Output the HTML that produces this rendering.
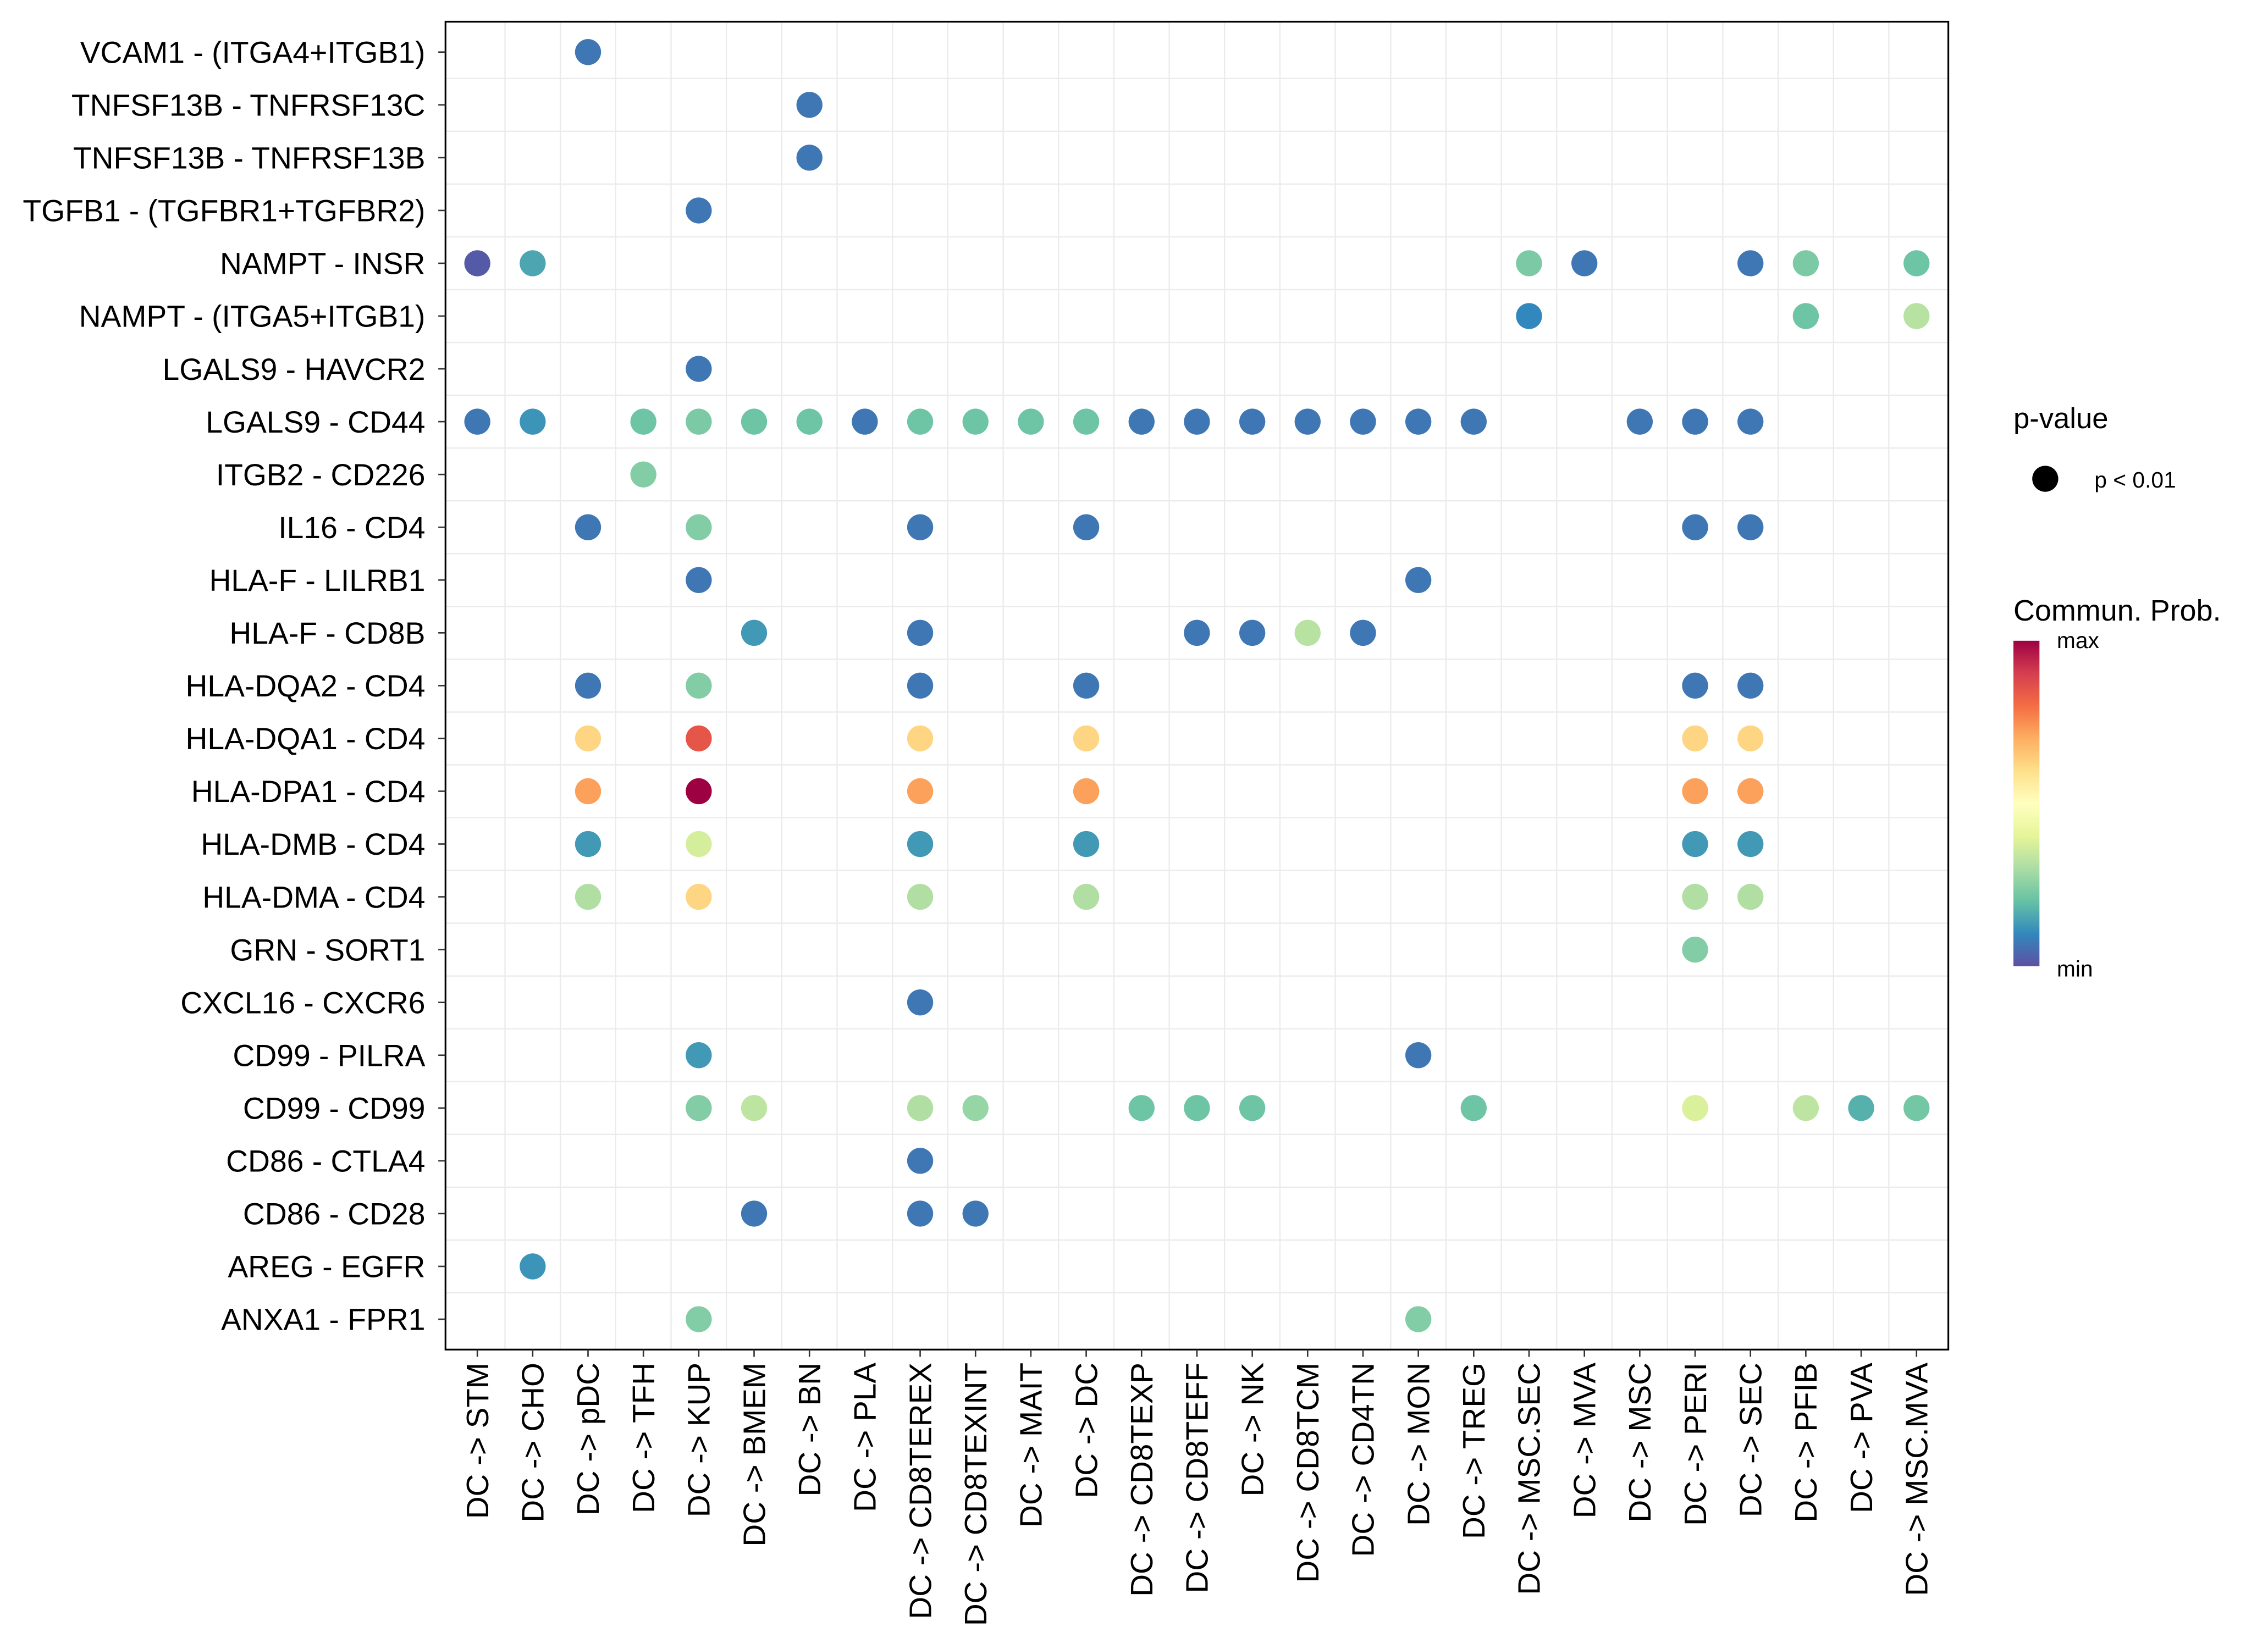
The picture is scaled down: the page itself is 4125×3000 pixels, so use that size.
<!DOCTYPE html>
<html><head><meta charset="utf-8"><style>
html,body{margin:0;padding:0;background:#fff;width:4125px;height:3000px;overflow:hidden}
svg{display:block}
text{font-family:"Liberation Sans",sans-serif;fill:#000}
</style></head><body>
<svg id="chart" width="4125" height="3000" viewBox="0 0 1568 1140" preserveAspectRatio="none" xmlns="http://www.w3.org/2000/svg">
<defs><linearGradient id="spec" x1="0" y1="1" x2="0" y2="0">
<stop offset="0" stop-color="#5E4FA2"/><stop offset="0.1" stop-color="#3288BD"/><stop offset="0.2" stop-color="#66C2A5"/><stop offset="0.3" stop-color="#ABDDA4"/><stop offset="0.4" stop-color="#E6F598"/><stop offset="0.5" stop-color="#FFFFBF"/><stop offset="0.6" stop-color="#FEE08B"/><stop offset="0.7" stop-color="#FDAE61"/><stop offset="0.8" stop-color="#F46D43"/><stop offset="0.9" stop-color="#D53E4F"/><stop offset="1" stop-color="#9E0142"/></linearGradient></defs>
<g id="grid"></g>
<g id="dots"></g>
<rect x="308" y="15" width="1039" height="918" fill="none" stroke="#000" stroke-width="1.2"/>
<g id="yaxis"></g>
<g id="xaxis"></g>
<g>
<text x="1392" y="296" font-size="20">p-value</text>
<circle cx="1414" cy="331" r="9" fill="#000"/>
<text x="1448" y="337" font-size="15.5">p &lt; 0.01</text>
</g>
<g>
<text x="1392" y="429" font-size="20.5">Commun. Prob.</text>
<rect x="1392" y="443" width="18" height="225" fill="url(#spec)"/>
<text x="1422" y="448" font-size="15.5">max</text>
<text x="1422" y="675" font-size="15.5">min</text>
</g>
</svg>
<script>
const cols = ["DC -> STM","DC -> CHO","DC -> pDC","DC -> TFH","DC -> KUP","DC -> BMEM","DC -> BN","DC -> PLA","DC -> CD8TEREX","DC -> CD8TEXINT","DC -> MAIT","DC -> DC","DC -> CD8TEXP","DC -> CD8TEFF","DC -> NK","DC -> CD8TCM","DC -> CD4TN","DC -> MON","DC -> TREG","DC -> MSC.SEC","DC -> MVA","DC -> MSC","DC -> PERI","DC -> SEC","DC -> PFIB","DC -> PVA","DC -> MSC.MVA"];
const rows = ["VCAM1 - (ITGA4+ITGB1)","TNFSF13B - TNFRSF13C","TNFSF13B - TNFRSF13B","TGFB1 - (TGFBR1+TGFBR2)","NAMPT - INSR","NAMPT - (ITGA5+ITGB1)","LGALS9 - HAVCR2","LGALS9 - CD44","ITGB2 - CD226","IL16 - CD4","HLA-F - LILRB1","HLA-F - CD8B","HLA-DQA2 - CD4","HLA-DQA1 - CD4","HLA-DPA1 - CD4","HLA-DMB - CD4","HLA-DMA - CD4","GRN - SORT1","CXCL16 - CXCR6","CD99 - PILRA","CD99 - CD99","CD86 - CTLA4","CD86 - CD28","AREG - EGFR","ANXA1 - FPR1"];
// per row: column indices with significant interactions
const rowCols = [
[2],[6],[6],[4],
[0,1,19,20,23,24,26],
[19,24,26],
[4],
[0,1,3,4,5,6,7,8,9,10,11,12,13,14,15,16,17,18,21,22,23],
[3],
[2,4,8,11,22,23],
[4,17],
[5,8,13,14,15,16],
[2,4,8,11,22,23],
[2,4,8,11,22,23],
[2,4,8,11,22,23],
[2,4,8,11,22,23],
[2,4,8,11,22,23],
[22],
[8],
[4,17],
[4,5,8,9,12,13,14,18,22,24,25,26],
[8],
[5,8,9],
[1],
[4,17]];
// per row: communication probability (scaled 0..1) for each column above
const rowProbs = [
[0.07],[0.07],[0.07],[0.07],
[0.02,0.15,0.23,0.07,0.07,0.23,0.21],
[0.1,0.21,0.32],
[0.07],
[0.07,0.12,0.21,0.23,0.21,0.21,0.07,0.21,0.21,0.21,0.21,0.07,0.07,0.07,0.07,0.07,0.07,0.07,0.07,0.07,0.07],
[0.24],
[0.07,0.24,0.07,0.07,0.07,0.07],
[0.07,0.07],
[0.13,0.07,0.07,0.07,0.32,0.07],
[0.07,0.24,0.07,0.07,0.07,0.07],
[0.62,0.85,0.62,0.62,0.62,0.62],
[0.72,1.0,0.72,0.72,0.72,0.72],
[0.13,0.37,0.13,0.13,0.13,0.13],
[0.31,0.62,0.31,0.31,0.31,0.31],
[0.24],
[0.07],
[0.13,0.07],
[0.24,0.33,0.31,0.27,0.21,0.21,0.21,0.21,0.38,0.33,0.17,0.22],
[0.07],
[0.07,0.07,0.07],
[0.12],
[0.24,0.24]];

const NS="http://www.w3.org/2000/svg";
const X0=308,X1=1347,Y0=15,Y1=933;
const xScale=i=>330+i*(1325-330)/(cols.length-1);
const yScale=i=>36+i*(912-36)/(rows.length-1);
const stops=["#5E4FA2","#3288BD","#66C2A5","#ABDDA4","#E6F598","#FFFFBF","#FEE08B","#FDAE61","#F46D43","#D53E4F","#9E0142"];
function hex(h){return [1,3,5].map(k=>parseInt(h.substr(k,2),16));}
function color(t){t=Math.max(0,Math.min(1,t));const p=t*10,i=Math.min(9,Math.floor(p)),f=p-i;const a=hex(stops[i]),b=hex(stops[i+1]);return "rgb("+a.map((v,k)=>Math.round(v+(b[k]-v)*f)).join(",")+")";}
function mk(tag,attrs,parent){const e=document.createElementNS(NS,tag);for(const k in attrs)e.setAttribute(k,attrs[k]);parent.appendChild(e);return e;}
const grid=document.getElementById('grid'),dots=document.getElementById('dots'),ya=document.getElementById('yaxis'),xa=document.getElementById('xaxis');
for(let i=0;i<cols.length;i++){
  if(i<cols.length-1){
    const m=mk('line',{x1:(xScale(i)+xScale(i+1))/2,x2:(xScale(i)+xScale(i+1))/2,y1:Y0,y2:Y1,stroke:'#ebebeb','stroke-width':0.9},grid);
    
    
  }
  const t=mk('line',{x1:xScale(i),x2:xScale(i),y1:Y1,y2:Y1+5,stroke:'#333','stroke-width':1},xa);
  
  
  const x=xScale(i)+7.5,y=Y1+9;
  const tx=mk('text',{x:x,y:y,'font-size':21.5,'text-anchor':'end',transform:'rotate(-90 '+x+' '+y+')'},xa);
  tx.textContent=cols[i];
  
  
}
for(let j=0;j<rows.length;j++){
  if(j<rows.length-1){
    const m=mk('line',{x1:X0,x2:X1,y1:(yScale(j)+yScale(j+1))/2,y2:(yScale(j)+yScale(j+1))/2,stroke:'#ebebeb','stroke-width':0.9},grid);
    
    
  }
  const t=mk('line',{x1:X0-5,x2:X0,y1:yScale(j),y2:yScale(j),stroke:'#333','stroke-width':1},ya);
  
  
  const tx=mk('text',{x:X0-14,y:yScale(j)+7.5,'font-size':21,'text-anchor':'end'},ya);
  tx.textContent=rows[j];
  
  
}
for(let j=0;j<rowCols.length;j++){
  for(let k=0;k<rowCols[j].length;k++){
    const c=mk('circle',{cx:xScale(rowCols[j][k]),cy:yScale(j),r:9,fill:color(rowProbs[j][k])},dots);
    
    
  }
}
</script>
</body></html>
